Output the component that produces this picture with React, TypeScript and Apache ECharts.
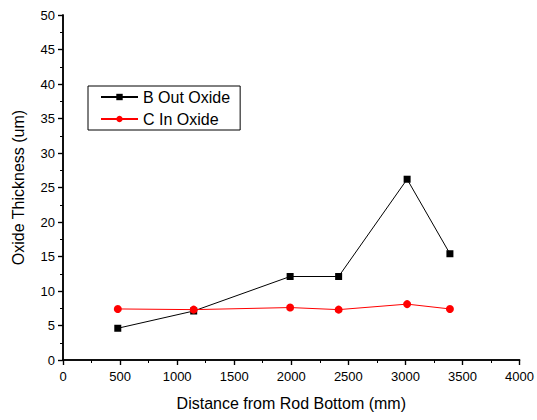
import React, { useEffect, useRef } from "react";
import * as echarts from "echarts";

const distances = [480, 1145, 1990, 2415, 3015, 3390];
const bOutOxide = [4.6, 7.1, 12.1, 12.1, 26.2, 15.4];
const cInOxide = [7.4, 7.3, 7.6, 7.3, 8.1, 7.4];

const FONT = "Liberation Sans, Arial, sans-serif";

export default function App() {
  const ref = useRef<HTMLDivElement>(null);
  useEffect(() => {
    if (!ref.current) return;
    const chart = echarts.init(ref.current, undefined, { renderer: "svg" });
    const axisLine = { show: true, lineStyle: { color: "#000", width: 1.5 } };
    chart.setOption({
      animation: false,
      backgroundColor: "#fff",
      textStyle: { fontFamily: FONT },
      grid: { left: 63, right: 16, top: 15, bottom: 60 },
      legend: {
        orient: "vertical",
        left: 88,
        top: 86,
        padding: [3, 10, 3, 12],
        itemGap: 6,
        itemWidth: 37,
        itemHeight: 8,
        borderColor: "#000",
        borderWidth: 1,
        textStyle: { fontSize: 16, color: "#000", fontFamily: FONT },
        data: ["B Out Oxide", "C In Oxide"],
      },
      xAxis: [
        {
          type: "value",
          position: "bottom",
          min: 0,
          max: 4000,
          interval: 500,
          name: "Distance from Rod Bottom (mm)",
          nameLocation: "middle",
          nameGap: 35,
          nameTextStyle: { fontSize: 16, color: "#000", fontFamily: FONT },
          axisLine,
          axisTick: { show: true, inside: false, length: 5, lineStyle: { color: "#000", width: 1.2 } },
          minorTick: { show: true, splitNumber: 2, length: 3, lineStyle: { color: "#000", width: 1 } },
          axisLabel: { fontSize: 13, color: "#000", margin: 10, fontFamily: FONT, formatter: (v: number) => String(v) },
          splitLine: { show: false },
        },
        {
          type: "value",
          position: "top",
          min: 0,
          max: 4000,
          interval: 500,
          axisLine,
          axisTick: { show: true, inside: true, length: 5, lineStyle: { color: "#000", width: 1.2 } },
          minorTick: { show: true, splitNumber: 2, length: 3, lineStyle: { color: "#000", width: 1 } },
          axisLabel: { show: false },
          splitLine: { show: false },
        },
      ],
      yAxis: [
        {
          type: "value",
          position: "left",
          min: 0,
          max: 50,
          interval: 5,
          name: "Oxide Thickness (um)",
          nameLocation: "middle",
          nameGap: 37,
          nameTextStyle: { fontSize: 16, color: "#000", fontFamily: FONT },
          axisLine,
          axisTick: { show: true, inside: false, length: 5, lineStyle: { color: "#000", width: 1.2 } },
          minorTick: { show: true, splitNumber: 2, length: 3, lineStyle: { color: "#000", width: 1 } },
          axisLabel: { fontSize: 13, color: "#000", margin: 8, fontFamily: FONT },
          splitLine: { show: false },
        },
        {
          type: "value",
          position: "right",
          min: 0,
          max: 50,
          interval: 5,
          axisLine,
          axisTick: { show: true, inside: true, length: 5, lineStyle: { color: "#000", width: 1.2 } },
          minorTick: { show: true, splitNumber: 2, length: 3, lineStyle: { color: "#000", width: 1 } },
          axisLabel: { show: false },
          splitLine: { show: false },
        },
      ],
      series: [
        {
          name: "B Out Oxide",
          type: "line",
          xAxisIndex: 0,
          yAxisIndex: 0,
          data: distances.map((d, i) => [d, bOutOxide[i]]),
          symbol: "rect",
          symbolSize: 7,
          lineStyle: { color: "#000", width: 1 },
          itemStyle: { color: "#000" },
        },
        {
          name: "C In Oxide",
          type: "line",
          xAxisIndex: 0,
          yAxisIndex: 0,
          data: distances.map((d, i) => [d, cInOxide[i]]),
          symbol: "circle",
          symbolSize: 8,
          lineStyle: { color: "#ff0000", width: 1 },
          itemStyle: { color: "#ff0000" },
        },
      ],
    });
    return () => chart.dispose();
  }, []);
  return <div ref={ref} style={{ width: 537, height: 420, position: "absolute", left: 0, top: 0 }} />;
}
